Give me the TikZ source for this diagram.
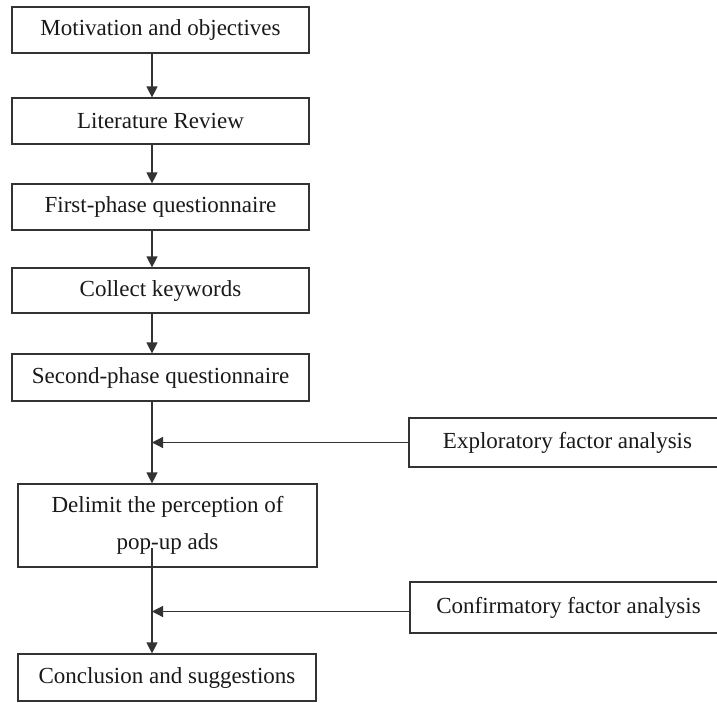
\documentclass[tikz,border=0pt]{standalone}
\usepackage{fontspec}
\setmainfont{Liberation Serif}
\usetikzlibrary{arrows.meta}
\begin{document}
\begin{tikzpicture}[x=1pt,y=-1pt,
  box/.style={draw=black!80,line width=1.2pt,rectangle,inner sep=0pt,font=\fontsize{23}{37}\selectfont,text=black!90},
  arr/.style={draw=black!80,line width=1.2pt,-{Triangle[width=11pt,length=11pt]}},
  ln/.style={draw=black!80,line width=1.2pt}]
\clip (0,0) rectangle (717,702);
\fill[white] (0,0) rectangle (717,702);
\coordinate (xl) at (152,0);
\node[box,minimum width=297,minimum height=46] (b1) at (160.5,30) {Motivation and objectives};
\node[box,minimum width=297,minimum height=46] (b2) at (160.5,121) {Literature Review};
\node[box,minimum width=297,minimum height=46] (b3) at (160.5,207) {First-phase questionnaire};
\node[box,minimum width=297,minimum height=45] (b4) at (160.5,290.5) {Collect keywords};
\node[box,minimum width=297,minimum height=47] (b5) at (160.5,377.5) {Second-phase questionnaire};
\node[box,minimum width=299,minimum height=83,align=center] (b6) at (167.5,525.5) {Delimit the perception of\\pop-up ads};
\node[box,minimum width=298,minimum height=47] (b7) at (167,677.5) {Conclusion and suggestions};
\node[box,minimum width=317,minimum height=49] (ex) at (567.5,442.5) {Exploratory factor analysis};
\node[box,minimum width=317,minimum height=51] (cf) at (568.5,607.5) {Confirmatory factor analysis\hspace{14pt}};
\coordinate (d) at (152,548);
\draw[arr] (b1.south -| xl) -- (b2.north -| xl);
\draw[arr] (b2.south -| xl) -- (b3.north -| xl);
\draw[arr] (b3.south -| xl) -- (b4.north -| xl);
\draw[arr] (b4.south -| xl) -- (b5.north -| xl);
\draw[arr] (b5.south -| xl) -- (b6.north -| xl);
\draw[arr] (d) -- (b7.north -| xl);
\draw[arr] (ex.west) -- (ex.west -| xl);
\draw[arr] ([yshift=-4pt]cf.west) -- ([yshift=-4pt]cf.west -| xl);
\end{tikzpicture}
\end{document}
